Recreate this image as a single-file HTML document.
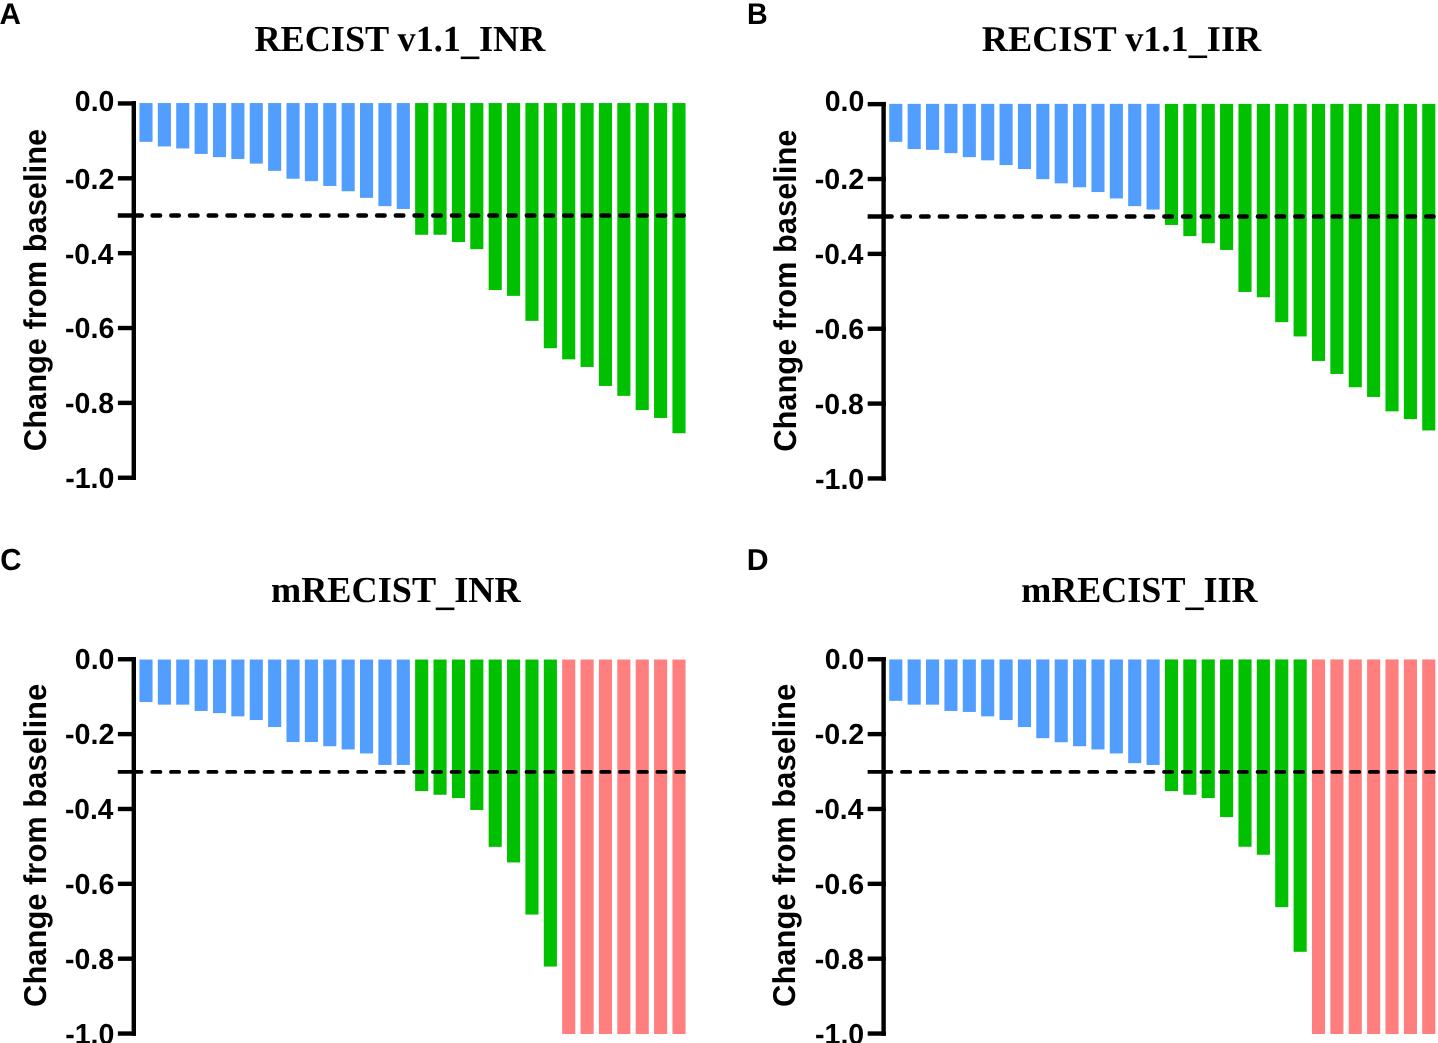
<!DOCTYPE html>
<html><head><meta charset="utf-8"><style>
html,body{margin:0;padding:0;background:#fff;width:1438px;height:1043px;overflow:hidden}
svg{display:block;will-change:transform}
text{text-rendering:geometricPrecision}
.ts{font-family:"Liberation Sans",sans-serif;font-weight:bold;font-size:100px;fill:#000}
.tt{font-family:"Liberation Serif",serif;font-weight:bold;font-size:100px;fill:#000}
</style></head><body>
<svg width="1438" height="1043" viewBox="0 0 1438 1043">
<rect x="139.45" y="103.05" width="13.1" height="38.80" fill="#529EFF"/>
<rect x="157.83" y="103.05" width="13.1" height="43.40" fill="#529EFF"/>
<rect x="176.21" y="103.05" width="13.1" height="45.40" fill="#529EFF"/>
<rect x="194.59" y="103.05" width="13.1" height="50.90" fill="#529EFF"/>
<rect x="212.97" y="103.05" width="13.1" height="54.10" fill="#529EFF"/>
<rect x="231.34" y="103.05" width="13.1" height="55.90" fill="#529EFF"/>
<rect x="249.72" y="103.05" width="13.1" height="60.60" fill="#529EFF"/>
<rect x="268.10" y="103.05" width="13.1" height="67.80" fill="#529EFF"/>
<rect x="286.48" y="103.05" width="13.1" height="75.70" fill="#529EFF"/>
<rect x="304.86" y="103.05" width="13.1" height="78.10" fill="#529EFF"/>
<rect x="323.24" y="103.05" width="13.1" height="82.90" fill="#529EFF"/>
<rect x="341.62" y="103.05" width="13.1" height="88.20" fill="#529EFF"/>
<rect x="360.00" y="103.05" width="13.1" height="94.80" fill="#529EFF"/>
<rect x="378.38" y="103.05" width="13.1" height="103.10" fill="#529EFF"/>
<rect x="396.76" y="103.05" width="13.1" height="105.90" fill="#529EFF"/>
<rect x="415.13" y="103.05" width="13.1" height="131.70" fill="#00C000"/>
<rect x="433.51" y="103.05" width="13.1" height="131.70" fill="#00C000"/>
<rect x="451.89" y="103.05" width="13.1" height="139.00" fill="#00C000"/>
<rect x="470.27" y="103.05" width="13.1" height="146.10" fill="#00C000"/>
<rect x="488.65" y="103.05" width="13.1" height="187.00" fill="#00C000"/>
<rect x="507.03" y="103.05" width="13.1" height="192.80" fill="#00C000"/>
<rect x="525.41" y="103.05" width="13.1" height="217.80" fill="#00C000"/>
<rect x="543.79" y="103.05" width="13.1" height="245.20" fill="#00C000"/>
<rect x="562.17" y="103.05" width="13.1" height="256.30" fill="#00C000"/>
<rect x="580.55" y="103.05" width="13.1" height="263.90" fill="#00C000"/>
<rect x="598.92" y="103.05" width="13.1" height="282.90" fill="#00C000"/>
<rect x="617.30" y="103.05" width="13.1" height="292.80" fill="#00C000"/>
<rect x="635.68" y="103.05" width="13.1" height="307.00" fill="#00C000"/>
<rect x="654.06" y="103.05" width="13.1" height="314.90" fill="#00C000"/>
<rect x="672.44" y="103.05" width="13.1" height="330.20" fill="#00C000"/>
<rect x="131.60" y="101.25" width="4.4" height="378.70"/>
<rect x="117.90" y="101.25" width="18.10" height="4.4"/>
<rect x="117.90" y="176.11" width="18.10" height="4.4"/>
<rect x="117.90" y="250.97" width="18.10" height="4.4"/>
<rect x="117.90" y="325.83" width="18.10" height="4.4"/>
<rect x="117.90" y="400.69" width="18.10" height="4.4"/>
<rect x="117.90" y="475.55" width="18.10" height="4.4"/>
<path d="M117.80,213.24H141.80A2.2,2.2 0 0 1 141.80,217.64H117.80Z"/>
<line x1="152.55" y1="215.44" x2="683.80" y2="215.44" stroke="#000" stroke-width="4.4" stroke-linecap="round" stroke-dasharray="7.60 11.11"/>
<rect x="889.25" y="103.85" width="13.1" height="38.00" fill="#529EFF"/>
<rect x="907.63" y="103.85" width="13.1" height="45.20" fill="#529EFF"/>
<rect x="926.01" y="103.85" width="13.1" height="46.00" fill="#529EFF"/>
<rect x="944.39" y="103.85" width="13.1" height="49.30" fill="#529EFF"/>
<rect x="962.77" y="103.85" width="13.1" height="53.30" fill="#529EFF"/>
<rect x="981.14" y="103.85" width="13.1" height="56.50" fill="#529EFF"/>
<rect x="999.52" y="103.85" width="13.1" height="61.20" fill="#529EFF"/>
<rect x="1017.90" y="103.85" width="13.1" height="65.20" fill="#529EFF"/>
<rect x="1036.28" y="103.85" width="13.1" height="75.30" fill="#529EFF"/>
<rect x="1054.66" y="103.85" width="13.1" height="79.50" fill="#529EFF"/>
<rect x="1073.04" y="103.85" width="13.1" height="83.40" fill="#529EFF"/>
<rect x="1091.42" y="103.85" width="13.1" height="88.20" fill="#529EFF"/>
<rect x="1109.80" y="103.85" width="13.1" height="94.60" fill="#529EFF"/>
<rect x="1128.18" y="103.85" width="13.1" height="102.30" fill="#529EFF"/>
<rect x="1146.56" y="103.85" width="13.1" height="105.70" fill="#529EFF"/>
<rect x="1164.93" y="103.85" width="13.1" height="121.10" fill="#00C000"/>
<rect x="1183.31" y="103.85" width="13.1" height="132.30" fill="#00C000"/>
<rect x="1201.69" y="103.85" width="13.1" height="139.40" fill="#00C000"/>
<rect x="1220.07" y="103.85" width="13.1" height="146.10" fill="#00C000"/>
<rect x="1238.45" y="103.85" width="13.1" height="188.10" fill="#00C000"/>
<rect x="1256.83" y="103.85" width="13.1" height="193.40" fill="#00C000"/>
<rect x="1275.21" y="103.85" width="13.1" height="218.30" fill="#00C000"/>
<rect x="1293.59" y="103.85" width="13.1" height="232.60" fill="#00C000"/>
<rect x="1311.97" y="103.85" width="13.1" height="257.10" fill="#00C000"/>
<rect x="1330.35" y="103.85" width="13.1" height="270.10" fill="#00C000"/>
<rect x="1348.72" y="103.85" width="13.1" height="283.40" fill="#00C000"/>
<rect x="1367.10" y="103.85" width="13.1" height="293.10" fill="#00C000"/>
<rect x="1385.48" y="103.85" width="13.1" height="307.50" fill="#00C000"/>
<rect x="1403.86" y="103.85" width="13.1" height="315.30" fill="#00C000"/>
<rect x="1422.24" y="103.85" width="13.1" height="326.60" fill="#00C000"/>
<rect x="881.40" y="101.95" width="4.4" height="378.70"/>
<rect x="867.70" y="101.95" width="18.10" height="4.4"/>
<rect x="867.70" y="176.81" width="18.10" height="4.4"/>
<rect x="867.70" y="251.67" width="18.10" height="4.4"/>
<rect x="867.70" y="326.53" width="18.10" height="4.4"/>
<rect x="867.70" y="401.39" width="18.10" height="4.4"/>
<rect x="867.70" y="476.25" width="18.10" height="4.4"/>
<path d="M867.60,214.24H891.60A2.2,2.2 0 0 1 891.60,218.64H867.60Z"/>
<line x1="902.35" y1="216.44" x2="1433.60" y2="216.44" stroke="#000" stroke-width="4.4" stroke-linecap="round" stroke-dasharray="7.60 11.11"/>
<rect x="139.45" y="659.55" width="13.1" height="42.50" fill="#529EFF"/>
<rect x="157.83" y="659.55" width="13.1" height="45.10" fill="#529EFF"/>
<rect x="176.21" y="659.55" width="13.1" height="45.10" fill="#529EFF"/>
<rect x="194.59" y="659.55" width="13.1" height="51.40" fill="#529EFF"/>
<rect x="212.97" y="659.55" width="13.1" height="53.60" fill="#529EFF"/>
<rect x="231.34" y="659.55" width="13.1" height="56.80" fill="#529EFF"/>
<rect x="249.72" y="659.55" width="13.1" height="60.50" fill="#529EFF"/>
<rect x="268.10" y="659.55" width="13.1" height="67.50" fill="#529EFF"/>
<rect x="286.48" y="659.55" width="13.1" height="82.50" fill="#529EFF"/>
<rect x="304.86" y="659.55" width="13.1" height="82.50" fill="#529EFF"/>
<rect x="323.24" y="659.55" width="13.1" height="86.70" fill="#529EFF"/>
<rect x="341.62" y="659.55" width="13.1" height="89.90" fill="#529EFF"/>
<rect x="360.00" y="659.55" width="13.1" height="93.90" fill="#529EFF"/>
<rect x="378.38" y="659.55" width="13.1" height="105.40" fill="#529EFF"/>
<rect x="396.76" y="659.55" width="13.1" height="105.40" fill="#529EFF"/>
<rect x="415.13" y="659.55" width="13.1" height="131.50" fill="#00C000"/>
<rect x="433.51" y="659.55" width="13.1" height="135.20" fill="#00C000"/>
<rect x="451.89" y="659.55" width="13.1" height="138.50" fill="#00C000"/>
<rect x="470.27" y="659.55" width="13.1" height="150.40" fill="#00C000"/>
<rect x="488.65" y="659.55" width="13.1" height="187.30" fill="#00C000"/>
<rect x="507.03" y="659.55" width="13.1" height="202.90" fill="#00C000"/>
<rect x="525.41" y="659.55" width="13.1" height="255.00" fill="#00C000"/>
<rect x="543.79" y="659.55" width="13.1" height="307.00" fill="#00C000"/>
<rect x="562.17" y="659.55" width="13.1" height="374.45" fill="#FF7F7F"/>
<rect x="580.55" y="659.55" width="13.1" height="374.45" fill="#FF7F7F"/>
<rect x="598.92" y="659.55" width="13.1" height="374.45" fill="#FF7F7F"/>
<rect x="617.30" y="659.55" width="13.1" height="374.45" fill="#FF7F7F"/>
<rect x="635.68" y="659.55" width="13.1" height="374.45" fill="#FF7F7F"/>
<rect x="654.06" y="659.55" width="13.1" height="374.45" fill="#FF7F7F"/>
<rect x="672.44" y="659.55" width="13.1" height="374.45" fill="#FF7F7F"/>
<rect x="131.60" y="657.05" width="4.4" height="378.70"/>
<rect x="117.90" y="657.05" width="18.10" height="4.4"/>
<rect x="117.90" y="731.91" width="18.10" height="4.4"/>
<rect x="117.90" y="806.77" width="18.10" height="4.4"/>
<rect x="117.90" y="881.63" width="18.10" height="4.4"/>
<rect x="117.90" y="956.49" width="18.10" height="4.4"/>
<rect x="117.90" y="1031.35" width="18.10" height="4.4"/>
<path d="M117.80,769.99H141.50A1.9,1.9 0 0 1 141.50,773.79H117.80Z"/>
<line x1="152.25" y1="771.89" x2="684.10" y2="771.89" stroke="#000" stroke-width="3.8" stroke-linecap="round" stroke-dasharray="8.20 10.51"/>
<rect x="889.25" y="659.45" width="13.1" height="41.40" fill="#529EFF"/>
<rect x="907.63" y="659.45" width="13.1" height="45.20" fill="#529EFF"/>
<rect x="926.01" y="659.45" width="13.1" height="45.20" fill="#529EFF"/>
<rect x="944.39" y="659.45" width="13.1" height="51.50" fill="#529EFF"/>
<rect x="962.77" y="659.45" width="13.1" height="52.50" fill="#529EFF"/>
<rect x="981.14" y="659.45" width="13.1" height="56.90" fill="#529EFF"/>
<rect x="999.52" y="659.45" width="13.1" height="60.60" fill="#529EFF"/>
<rect x="1017.90" y="659.45" width="13.1" height="67.60" fill="#529EFF"/>
<rect x="1036.28" y="659.45" width="13.1" height="78.70" fill="#529EFF"/>
<rect x="1054.66" y="659.45" width="13.1" height="82.80" fill="#529EFF"/>
<rect x="1073.04" y="659.45" width="13.1" height="86.80" fill="#529EFF"/>
<rect x="1091.42" y="659.45" width="13.1" height="90.00" fill="#529EFF"/>
<rect x="1109.80" y="659.45" width="13.1" height="94.00" fill="#529EFF"/>
<rect x="1128.18" y="659.45" width="13.1" height="103.70" fill="#529EFF"/>
<rect x="1146.56" y="659.45" width="13.1" height="105.50" fill="#529EFF"/>
<rect x="1164.93" y="659.45" width="13.1" height="131.60" fill="#00C000"/>
<rect x="1183.31" y="659.45" width="13.1" height="135.30" fill="#00C000"/>
<rect x="1201.69" y="659.45" width="13.1" height="138.60" fill="#00C000"/>
<rect x="1220.07" y="659.45" width="13.1" height="157.60" fill="#00C000"/>
<rect x="1238.45" y="659.45" width="13.1" height="187.30" fill="#00C000"/>
<rect x="1256.83" y="659.45" width="13.1" height="195.30" fill="#00C000"/>
<rect x="1275.21" y="659.45" width="13.1" height="247.70" fill="#00C000"/>
<rect x="1293.59" y="659.45" width="13.1" height="292.35" fill="#00C000"/>
<rect x="1311.97" y="659.45" width="13.1" height="374.55" fill="#FF7F7F"/>
<rect x="1330.35" y="659.45" width="13.1" height="374.55" fill="#FF7F7F"/>
<rect x="1348.72" y="659.45" width="13.1" height="374.55" fill="#FF7F7F"/>
<rect x="1367.10" y="659.45" width="13.1" height="374.55" fill="#FF7F7F"/>
<rect x="1385.48" y="659.45" width="13.1" height="374.55" fill="#FF7F7F"/>
<rect x="1403.86" y="659.45" width="13.1" height="374.55" fill="#FF7F7F"/>
<rect x="1422.24" y="659.45" width="13.1" height="374.55" fill="#FF7F7F"/>
<rect x="881.40" y="657.05" width="4.4" height="378.70"/>
<rect x="867.70" y="657.05" width="18.10" height="4.4"/>
<rect x="867.70" y="731.91" width="18.10" height="4.4"/>
<rect x="867.70" y="806.77" width="18.10" height="4.4"/>
<rect x="867.70" y="881.63" width="18.10" height="4.4"/>
<rect x="867.70" y="956.49" width="18.10" height="4.4"/>
<rect x="867.70" y="1031.35" width="18.10" height="4.4"/>
<path d="M867.60,769.99H891.30A1.9,1.9 0 0 1 891.30,773.79H867.60Z"/>
<line x1="902.05" y1="771.89" x2="1433.90" y2="771.89" stroke="#000" stroke-width="3.8" stroke-linecap="round" stroke-dasharray="8.20 10.51"/>
<text class="tt" transform="translate(254.397,50.600) scale(0.36189,0.36701)">RECIST v1.1<tspan dy="8">_</tspan><tspan dy="-8">INR</tspan></text>
<text class="tt" transform="translate(981.746,50.500) scale(0.36269,0.36320)">RECIST v1.1<tspan dy="8">_</tspan><tspan dy="-8">IIR</tspan></text>
<text class="tt" transform="translate(271.034,601.700) scale(0.36212,0.36853)">mRECIST<tspan dy="8">_</tspan><tspan dy="-8">INR</tspan></text>
<text class="tt" transform="translate(1021.139,601.700) scale(0.36055,0.36548)">mRECIST<tspan dy="8">_</tspan><tspan dy="-8">IIR</tspan></text>
<text class="ts" transform="translate(-0.592,23.900) scale(0.29701,0.29855)">A</text>
<text class="ts" transform="translate(746.887,24.000) scale(0.28689,0.30000)">B</text>
<text class="ts" transform="translate(0.161,569.896) scale(0.29480,0.30425)">C</text>
<text class="ts" transform="translate(746.784,569.900) scale(0.30245,0.30217)">D</text>
<text class="ts" transform="translate(74.861,110.536) scale(0.28473,0.28939)">0.0</text>
<text class="ts" transform="translate(64.951,188.696) scale(0.28722,0.28939)">-0.2</text>
<text class="ts" transform="translate(64.974,263.556) scale(0.28151,0.28939)">-0.4</text>
<text class="ts" transform="translate(64.953,338.416) scale(0.28664,0.28939)">-0.6</text>
<text class="ts" transform="translate(64.958,413.276) scale(0.28548,0.28939)">-0.8</text>
<text class="ts" transform="translate(65.156,488.136) scale(0.28600,0.28939)">-1.0</text>
<text class="ts" transform="translate(46.050,451.134) rotate(-90) scale(0.30848,0.31500)">Change from baseline</text>
<text class="ts" transform="translate(824.661,111.386) scale(0.28473,0.28939)">0.0</text>
<text class="ts" transform="translate(814.751,189.396) scale(0.28722,0.28939)">-0.2</text>
<text class="ts" transform="translate(814.774,264.256) scale(0.28151,0.28939)">-0.4</text>
<text class="ts" transform="translate(814.753,339.116) scale(0.28664,0.28939)">-0.6</text>
<text class="ts" transform="translate(814.758,413.976) scale(0.28548,0.28939)">-0.8</text>
<text class="ts" transform="translate(814.956,488.836) scale(0.28600,0.28939)">-1.0</text>
<text class="ts" transform="translate(795.850,451.834) rotate(-90) scale(0.30848,0.31500)">Change from baseline</text>
<text class="ts" transform="translate(74.861,669.486) scale(0.28473,0.28939)">0.0</text>
<text class="ts" transform="translate(64.951,744.496) scale(0.28722,0.28939)">-0.2</text>
<text class="ts" transform="translate(64.974,819.356) scale(0.28151,0.28939)">-0.4</text>
<text class="ts" transform="translate(64.953,894.216) scale(0.28664,0.28939)">-0.6</text>
<text class="ts" transform="translate(64.958,969.076) scale(0.28548,0.28939)">-0.8</text>
<text class="ts" transform="translate(65.156,1043.936) scale(0.28600,0.28939)">-1.0</text>
<text class="ts" transform="translate(45.500,1006.937) rotate(-90) scale(0.30925,0.31500)">Change from baseline</text>
<text class="ts" transform="translate(824.661,669.486) scale(0.28473,0.28939)">0.0</text>
<text class="ts" transform="translate(814.751,744.496) scale(0.28722,0.28939)">-0.2</text>
<text class="ts" transform="translate(814.774,819.356) scale(0.28151,0.28939)">-0.4</text>
<text class="ts" transform="translate(814.753,894.216) scale(0.28664,0.28939)">-0.6</text>
<text class="ts" transform="translate(814.758,969.076) scale(0.28548,0.28939)">-0.8</text>
<text class="ts" transform="translate(814.956,1043.936) scale(0.28600,0.28939)">-1.0</text>
<text class="ts" transform="translate(795.300,1006.937) rotate(-90) scale(0.30925,0.31500)">Change from baseline</text>
</svg>
</body></html>
